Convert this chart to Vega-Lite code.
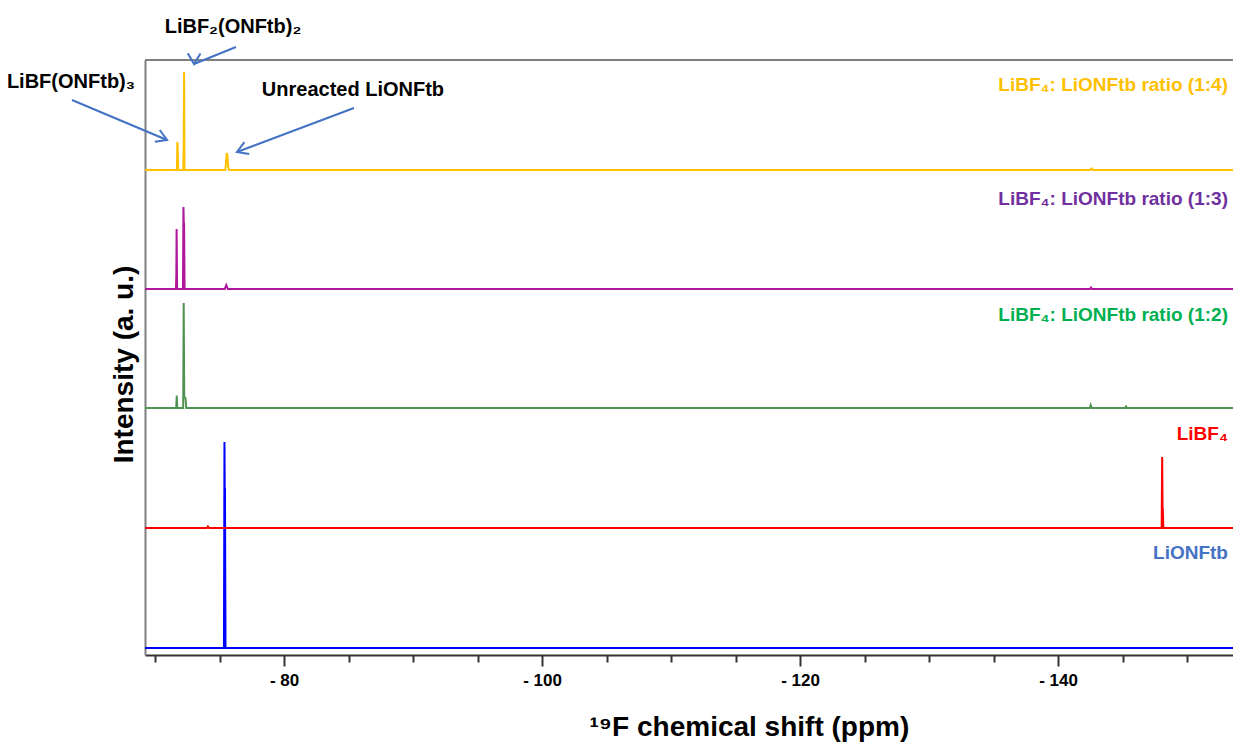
{
  "$schema": "https://vega.github.io/schema/vega-lite/v6.json",
  "autosize": {"type": "none"},
  "padding": {"left": 145, "top": 60, "right": 0, "bottom": 87},
  "width": 1088,
  "height": 595,
  "background": "white",
  "config": {
    "font": "Liberation Sans",
    "view": {"stroke": null}
  },
  "datasets": {
    "spectra": [
      {"series": "LiONFtb", "ppm": -69.22, "intensity": 7},
      {"series": "LiONFtb", "ppm": -75.34, "intensity": 7},
      {"series": "LiONFtb", "ppm": -75.38, "intensity": 213},
      {"series": "LiONFtb", "ppm": -75.40, "intensity": 166},
      {"series": "LiONFtb", "ppm": -75.42, "intensity": 166},
      {"series": "LiONFtb", "ppm": -75.46, "intensity": 7},
      {"series": "LiONFtb", "ppm": -153.56, "intensity": 7},

      {"series": "LiBF4", "ppm": -69.22, "intensity": 127},
      {"series": "LiBF4", "ppm": -74.02, "intensity": 127},
      {"series": "LiBF4", "ppm": -74.10, "intensity": 128.5},
      {"series": "LiBF4", "ppm": -74.18, "intensity": 127},
      {"series": "LiBF4", "ppm": -148.03, "intensity": 127},
      {"series": "LiBF4", "ppm": -148.07, "intensity": 198},
      {"series": "LiBF4", "ppm": -148.10, "intensity": 146},
      {"series": "LiBF4", "ppm": -148.12, "intensity": 146},
      {"series": "LiBF4", "ppm": -148.16, "intensity": 127},
      {"series": "LiBF4", "ppm": -153.56, "intensity": 127},

      {"series": "1:2", "ppm": -69.22, "intensity": 247},
      {"series": "1:2", "ppm": -71.64, "intensity": 247},
      {"series": "1:2", "ppm": -71.68, "intensity": 259.5},
      {"series": "1:2", "ppm": -71.72, "intensity": 247},
      {"series": "1:2", "ppm": -72.18, "intensity": 247},
      {"series": "1:2", "ppm": -72.22, "intensity": 352},
      {"series": "1:2", "ppm": -72.26, "intensity": 258},
      {"series": "1:2", "ppm": -72.36, "intensity": 257},
      {"series": "1:2", "ppm": -72.42, "intensity": 247},
      {"series": "1:2", "ppm": -142.45, "intensity": 247},
      {"series": "1:2", "ppm": -142.53, "intensity": 250},
      {"series": "1:2", "ppm": -142.61, "intensity": 247},
      {"series": "1:2", "ppm": -145.20, "intensity": 247},
      {"series": "1:2", "ppm": -145.27, "intensity": 248.5},
      {"series": "1:2", "ppm": -145.34, "intensity": 247},
      {"series": "1:2", "ppm": -153.56, "intensity": 247},

      {"series": "1:3", "ppm": -69.22, "intensity": 366},
      {"series": "1:3", "ppm": -71.62, "intensity": 366},
      {"series": "1:3", "ppm": -71.65, "intensity": 382},
      {"series": "1:3", "ppm": -71.67, "intensity": 426},
      {"series": "1:3", "ppm": -71.71, "intensity": 366},
      {"series": "1:3", "ppm": -72.16, "intensity": 366},
      {"series": "1:3", "ppm": -72.20, "intensity": 448},
      {"series": "1:3", "ppm": -72.23, "intensity": 431},
      {"series": "1:3", "ppm": -72.25, "intensity": 431},
      {"series": "1:3", "ppm": -72.29, "intensity": 366},
      {"series": "1:3", "ppm": -75.40, "intensity": 366},
      {"series": "1:3", "ppm": -75.52, "intensity": 370},
      {"series": "1:3", "ppm": -75.64, "intensity": 366},
      {"series": "1:3", "ppm": -142.47, "intensity": 366},
      {"series": "1:3", "ppm": -142.55, "intensity": 367.5},
      {"series": "1:3", "ppm": -142.63, "intensity": 366},
      {"series": "1:3", "ppm": -153.56, "intensity": 366},

      {"series": "1:4", "ppm": -69.22, "intensity": 485},
      {"series": "1:4", "ppm": -71.69, "intensity": 485},
      {"series": "1:4", "ppm": -71.73, "intensity": 513},
      {"series": "1:4", "ppm": -71.75, "intensity": 511},
      {"series": "1:4", "ppm": -71.79, "intensity": 485},
      {"series": "1:4", "ppm": -72.19, "intensity": 485},
      {"series": "1:4", "ppm": -72.22, "intensity": 511},
      {"series": "1:4", "ppm": -72.25, "intensity": 583},
      {"series": "1:4", "ppm": -72.28, "intensity": 485},
      {"series": "1:4", "ppm": -75.45, "intensity": 485},
      {"series": "1:4", "ppm": -75.53, "intensity": 498},
      {"series": "1:4", "ppm": -75.56, "intensity": 502},
      {"series": "1:4", "ppm": -75.60, "intensity": 500},
      {"series": "1:4", "ppm": -75.68, "intensity": 487},
      {"series": "1:4", "ppm": -75.75, "intensity": 485},
      {"series": "1:4", "ppm": -142.50, "intensity": 485},
      {"series": "1:4", "ppm": -142.60, "intensity": 486.5},
      {"series": "1:4", "ppm": -142.70, "intensity": 485},
      {"series": "1:4", "ppm": -153.56, "intensity": 485}
    ],
    "seriesLabels": [
      {"label": "LiBF₄: LiONFtb ratio (1:4)", "series": "1:4", "ppm": -153.17, "intensity": 564},
      {"label": "LiBF₄: LiONFtb ratio (1:3)", "series": "1:3", "ppm": -153.17, "intensity": 450},
      {"label": "LiBF₄: LiONFtb ratio (1:2)", "series": "1:2", "ppm": -153.17, "intensity": 334},
      {"label": "LiBF₄", "series": "LiBF4", "ppm": -153.17, "intensity": 215},
      {"label": "LiONFtb", "series": "LiONFtb", "ppm": -153.17, "intensity": 96}
    ],
    "peakNotes": [
      {"note": "LiBF₂(ONFtb)₂", "ppm": -76.04, "intensity": 622},
      {"note": "LiBF(ONFtb)₃", "ppm": -63.48, "intensity": 567},
      {"note": "Unreacted LiONFtb", "ppm": -85.34, "intensity": 559}
    ],
    "arrows": [
      {"arrow": "LiBF(ONFtb)3", "ppmFrom": -63.56, "fromIntensity": 555, "ppmTo": -70.93, "toIntensity": 515},
      {"arrow": "LiBF2(ONFtb)2", "ppmFrom": -76.27, "fromIntensity": 608, "ppmTo": -73.02, "toIntensity": 591},
      {"arrow": "Unreacted", "ppmFrom": -85.42, "fromIntensity": 547, "ppmTo": -76.35, "toIntensity": 503}
    ]
  },
  "layer": [
    {
      "data": {"name": "spectra"},
      "mark": {"type": "line", "strokeWidth": 2, "interpolate": "linear"},
      "encoding": {
        "x": {
          "field": "ppm",
          "type": "quantitative",
          "scale": {"domain": [-153.56, -69.22], "reverse": true, "nice": false, "zero": false},
          "axis": {
            "values": [-70, -75, -80, -85, -90, -95, -100, -105, -110, -115, -120, -125, -130, -135, -140, -145, -150],
            "labelExpr": "datum.value % 20 == 0 ? '- ' + abs(datum.value) : ''",
            "tickSize": {"condition": {"test": "datum.value % 20 == 0", "value": 11}, "value": 7},
            "tickWidth": 2,
            "tickColor": "#333333",
            "domainColor": "#333333",
            "domainWidth": 2,
            "grid": false,
            "labelFontSize": 17,
            "labelFontWeight": "bold",
            "labelColor": "#000000",
            "labelPadding": 6,
            "labelFlush": false,
            "labelOverlap": false,
            "title": "¹⁹F chemical shift (ppm)",
            "titleFontSize": 28,
            "titleFontWeight": "bold",
            "titleColor": "#000000",
            "titleAlign": "left",
            "titleAnchor": "start",
            "titleX": 444,
            "titleY": 80,
            "titleBaseline": "alphabetic"
          }
        },
        "y": {
          "field": "intensity",
          "type": "quantitative",
          "scale": {"domain": [0, 595], "nice": false, "zero": false},
          "axis": {
            "labels": false,
            "ticks": false,
            "grid": false,
            "domainColor": "#7f7f7f",
            "domainWidth": 2,
            "title": "Intensity (a. u.)",
            "titleFontSize": 28,
            "titleFontWeight": "bold",
            "titleColor": "#000000",
            "titleAngle": -90,
            "titleAlign": "center",
            "titleBaseline": "alphabetic",
            "titleX": -13,
            "titleY": 304
          }
        },
        "color": {
          "field": "series",
          "type": "nominal",
          "scale": {
            "domain": ["LiONFtb", "LiBF4", "1:2", "1:3", "1:4"],
            "range": ["#0000FF", "#FF0000", "#4F9150", "#B0189C", "#FFC000"]
          },
          "legend": null
        },
        "detail": {"field": "series"}
      }
    },
    {
      "data": {"values": [{}]},
      "mark": {"type": "rule", "color": "#7f7f7f", "strokeWidth": 2},
      "encoding": {"y": {"datum": 595}}
    },
    {
      "data": {"name": "arrows"},
      "mark": {"type": "rule", "color": "#4472C4", "strokeWidth": 2},
      "encoding": {
        "x": {"field": "ppmFrom", "type": "quantitative"},
        "y": {"field": "fromIntensity", "type": "quantitative"},
        "x2": {"field": "ppmTo"},
        "y2": {"field": "toIntensity"}
      }
    },
    {
      "data": {"name": "arrows"},
      "mark": {"type": "point", "shape": "M-1,-0.6L0,0L-1,0.6", "filled": false, "stroke": "#4472C4", "strokeWidth": 2, "size": 450, "opacity": 1},
      "encoding": {
        "x": {"field": "ppmTo", "type": "quantitative"},
        "y": {"field": "toIntensity", "type": "quantitative"},
        "angle": {
          "field": "arrow",
          "type": "nominal",
          "scale": {"domain": ["LiBF(ONFtb)3", "LiBF2(ONFtb)2", "Unreacted"], "range": [22.8, 158, 159.4]},
          "legend": null
        }
      }
    },
    {
      "data": {"name": "seriesLabels"},
      "mark": {"type": "text", "align": "right", "baseline": "alphabetic", "fontSize": 19, "fontWeight": "bold"},
      "encoding": {
        "x": {"field": "ppm", "type": "quantitative"},
        "y": {"field": "intensity", "type": "quantitative"},
        "text": {"field": "label"},
        "color": {
          "field": "series",
          "type": "nominal",
          "scale": {
            "domain": ["LiONFtb", "LiBF4", "1:2", "1:3", "1:4"],
            "range": ["#4472C4", "#FF0000", "#00B050", "#7030A0", "#FFC000"]
          },
          "legend": null
        }
      }
    },
    {
      "data": {"name": "peakNotes"},
      "mark": {"type": "text", "align": "center", "baseline": "alphabetic", "fontSize": 20, "fontWeight": "bold", "color": "#000000"},
      "encoding": {
        "x": {"field": "ppm", "type": "quantitative"},
        "y": {"field": "intensity", "type": "quantitative"},
        "text": {"field": "note"}
      }
    }
  ],
  "resolve": {"scale": {"color": "independent"}}
}
